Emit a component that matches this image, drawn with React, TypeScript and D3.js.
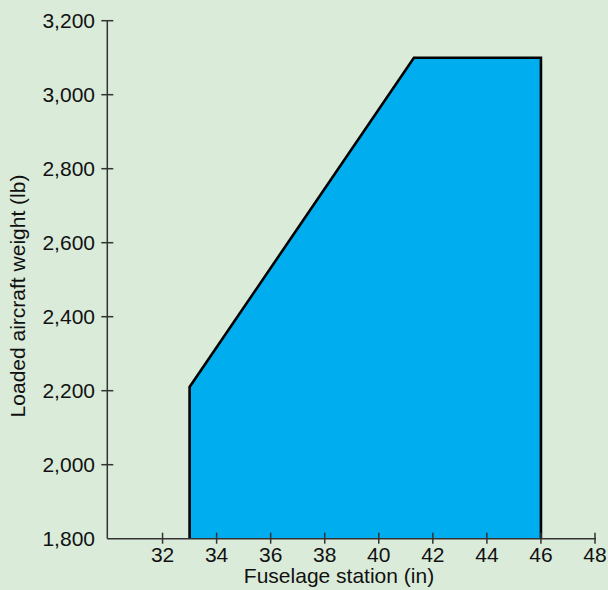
import React from "react";
import * as d3 from "d3";

const envelopeStation: number[] = [33, 33, 41.3, 46, 46];
const envelopeWeight: number[] = [1800, 2210, 3100, 3100, 1800];
const xTicks: number[] = [32, 34, 36, 38, 40, 42, 44, 46, 48];
const yTicks: number[] = [1800, 2000, 2200, 2400, 2600, 2800, 3000, 3200];
const xTitle = "Fuselage station (in)";
const yTitle = "Loaded aircraft weight (lb)";

const W = 608;
const H = 590;
const FONT = "'Liberation Sans', Arial, Helvetica, sans-serif";
const FS = 21;

export default function App() {
  const x = d3.scaleLinear().domain([30, 48]).range([108.5, 595]);
  const y = d3.scaleLinear().domain([1800, 3200]).range([538.7, 20.7]);
  const fmt = d3.format(",");
  const pts: [number, number][] = envelopeStation.map((s, i) => [s, envelopeWeight[i]]);
  const line = d3
    .line<[number, number]>()
    .x((d) => x(d[0]))
    .y((d) => y(d[1]));
  const axisX0 = 107.3;
  const axisY0 = y(1800);
  const axisColor = "#333";

  return (
    <svg
      width={W}
      height={H}
      style={{ position: "absolute", left: 0, top: 0, display: "block" }}
      fontFamily={FONT}
    >
      <rect x={0} y={0} width={W} height={H} fill="#daebd9" />
      <path
        d={line(pts) || ""}
        fill="#00aeef"
        stroke="#000"
        strokeWidth={2.6}
        strokeLinejoin="miter"
      />
      <line x1={axisX0} x2={axisX0} y1={y(3200)} y2={axisY0} stroke={axisColor} strokeWidth={1.5} />
      {yTicks.map((t) => (
        <g key={"y" + t}>
          {t !== 1800 && (
            <line x1={axisX0 - 6} x2={axisX0 + 6} y1={y(t)} y2={y(t)} stroke={axisColor} strokeWidth={1.5} />
          )}
          <text x={95} y={y(t)} dy="0.36em" textAnchor="end" fontSize={FS} fill="#111">
            {fmt(t)}
          </text>
        </g>
      ))}
      <line x1={axisX0} x2={x(48) + 1} y1={axisY0} y2={axisY0} stroke={axisColor} strokeWidth={1.5} />
      {xTicks.map((t) => (
        <g key={"x" + t}>
          <line x1={x(t)} x2={x(t)} y1={axisY0 - 6} y2={axisY0 + 5} stroke={axisColor} strokeWidth={1.5} />
          <text x={x(t)} y={562} textAnchor="middle" fontSize={FS} fill="#111">
            {t}
          </text>
        </g>
      ))}
      <text x={339} y={583} textAnchor="middle" fontSize={FS} fill="#111">
        {xTitle}
      </text>
      <text transform={`translate(25, 296) rotate(-90)`} textAnchor="middle" fontSize={FS} fill="#111">
        {yTitle}
      </text>
    </svg>
  );
}
